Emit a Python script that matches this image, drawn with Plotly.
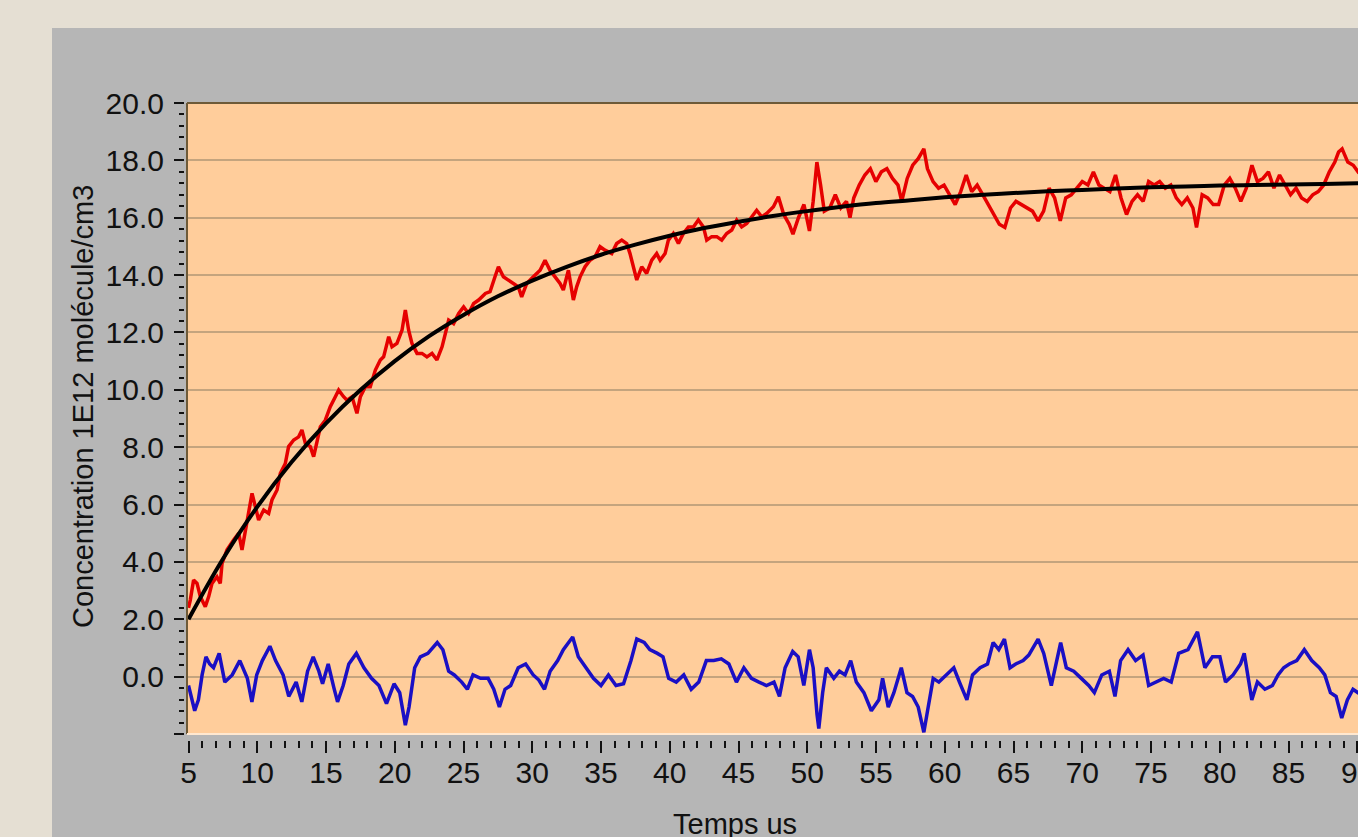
import plotly.graph_objects as go

# ---------------- data ----------------
red_t = [5.00, 5.13, 5.37, 5.62, 5.86, 6.22, 6.47, 6.71, 7.07, 7.31,
         7.44, 7.80, 8.28, 8.65, 8.89, 9.25, 9.62, 9.86, 10.10, 10.47,
         10.83, 11.07, 11.44, 11.68, 12.04, 12.28, 12.65, 13.01, 13.25, 13.50,
         13.86, 14.10, 14.34, 14.59, 14.95, 15.31, 15.68, 15.92, 16.28, 16.53,
         16.89, 17.25, 17.50, 17.86, 18.22, 18.59, 18.95, 19.19, 19.44, 19.56,
         19.80, 20.16, 20.53, 20.77, 21.01, 21.25, 21.62, 21.98, 22.34, 22.71,
         23.07, 23.44, 23.68, 23.92, 24.28, 24.65, 25.01, 25.37, 25.74, 26.10,
         26.59, 26.93, 27.29, 27.54, 27.90, 28.26, 28.63, 28.99, 29.23, 29.60,
         30.08, 30.57, 30.93, 31.29, 31.66, 32.02, 32.26, 32.63, 32.99, 33.23,
         33.48, 33.84, 34.20, 34.57, 34.93, 35.29, 35.78, 36.14, 36.51, 36.87,
         37.11, 37.36, 37.60, 37.96, 38.32, 38.69, 39.05, 39.30, 39.66, 39.90,
         40.26, 40.63, 40.99, 41.36, 41.72, 42.08, 42.45, 42.69, 43.05, 43.42,
         43.78, 44.14, 44.51, 44.87, 45.23, 45.60, 45.96, 46.32, 46.69, 47.05,
         47.54, 47.90, 48.29, 48.69, 48.96, 49.36, 49.76, 50.16, 50.43, 50.70,
         50.97, 51.24, 51.64, 52.04, 52.44, 52.85, 53.11, 53.38, 53.78, 54.19,
         54.59, 54.99, 55.39, 55.79, 56.20, 56.60, 56.87, 57.27, 57.67, 58.07,
         58.48, 58.74, 59.15, 59.55, 59.95, 60.35, 60.76, 61.16, 61.56, 61.96,
         62.36, 62.77, 63.17, 63.57, 63.97, 64.37, 64.78, 65.18, 65.58, 65.98,
         66.38, 66.79, 67.19, 67.59, 67.99, 68.40, 68.80, 69.20, 69.60, 70.00,
         70.41, 70.81, 71.21, 71.61, 72.01, 72.42, 72.82, 73.22, 73.62, 74.02,
         74.43, 74.83, 75.23, 75.63, 76.04, 76.44, 76.84, 77.24, 77.64, 78.05,
         78.31, 78.72, 79.12, 79.52, 79.92, 80.33, 80.73, 81.13, 81.53, 81.93,
         82.34, 82.74, 83.14, 83.54, 83.94, 84.35, 84.75, 85.15, 85.55, 85.95,
         86.36, 86.76, 87.16, 87.56, 87.97, 88.37, 88.64, 88.90, 89.31, 89.71,
         90.06, 90.40]
red_v = [2.40, 2.67, 3.37, 3.25, 2.79, 2.44, 2.79, 3.25, 3.48, 3.25,
         3.95, 4.42, 4.76, 5.00, 4.42, 5.46, 6.39, 5.93, 5.46, 5.81,
         5.69, 6.16, 6.51, 7.09, 7.43, 8.02, 8.25, 8.36, 8.60, 8.13,
         8.02, 7.67, 8.25, 8.71, 8.94, 9.41, 9.76, 9.99, 9.76, 9.64,
         9.76, 9.18, 9.76, 10.11, 10.11, 10.69, 11.04, 11.15, 11.62, 11.85,
         11.50, 11.62, 12.08, 12.78, 12.08, 11.62, 11.27, 11.27, 11.15, 11.27,
         11.04, 11.50, 11.96, 12.43, 12.31, 12.66, 12.89, 12.66, 13.01, 13.13,
         13.36, 13.42, 13.94, 14.29, 13.94, 13.83, 13.71, 13.59, 13.24, 13.71,
         13.94, 14.17, 14.52, 14.17, 13.94, 13.71, 13.48, 14.17, 13.13, 13.59,
         13.94, 14.29, 14.52, 14.64, 14.99, 14.87, 14.75, 15.10, 15.22, 15.10,
         14.75, 14.29, 13.83, 14.29, 14.06, 14.52, 14.75, 14.52, 14.75, 15.22,
         15.45, 15.10, 15.45, 15.68, 15.68, 15.92, 15.68, 15.22, 15.34, 15.34,
         15.22, 15.45, 15.57, 15.92, 15.68, 15.80, 16.03, 16.26, 16.03, 16.15,
         16.38, 16.73, 16.11, 15.77, 15.43, 16.00, 16.46, 15.54, 16.57, 17.94,
         17.14, 16.23, 16.34, 16.80, 16.34, 16.57, 16.00, 16.69, 17.14, 17.49,
         17.71, 17.26, 17.60, 17.71, 17.37, 17.14, 16.57, 17.37, 17.83, 18.06,
         18.40, 17.71, 17.26, 17.03, 17.14, 16.80, 16.46, 16.91, 17.49, 16.91,
         17.14, 16.80, 16.46, 16.11, 15.77, 15.66, 16.34, 16.57, 16.46, 16.34,
         16.23, 15.89, 16.23, 17.03, 16.69, 15.89, 16.69, 16.80, 17.03, 17.26,
         17.14, 17.60, 17.14, 17.03, 16.91, 17.49, 16.69, 16.11, 16.57, 16.80,
         16.57, 17.26, 17.14, 17.26, 17.03, 17.14, 16.69, 16.46, 16.69, 16.34,
         15.66, 16.80, 16.69, 16.46, 16.46, 17.14, 17.37, 17.03, 16.57, 17.03,
         17.83, 17.26, 17.37, 17.60, 17.03, 17.49, 17.14, 16.80, 17.03, 16.69,
         16.57, 16.80, 16.91, 17.14, 17.60, 17.94, 18.29, 18.40, 17.94, 17.83,
         17.60, 17.70]

fit_t = [5, 7.5, 10, 12.5, 15, 17.5, 20, 22.5, 25, 27.5, 30, 32.5, 35, 37.5,
         40, 42.5, 45, 47.5, 50, 52.5, 55, 57.5, 60, 62.5, 65, 67.5, 70, 72.5,
         75, 77.5, 80, 82.5, 85, 87.5, 90, 91]
fit_v = [2.00, 4.10, 5.92, 7.48, 8.83, 9.99, 11.00, 11.87, 12.61, 13.26,
         13.81, 14.29, 14.71, 15.06, 15.37, 15.64, 15.86, 16.06, 16.23, 16.38,
         16.51, 16.61, 16.71, 16.79, 16.86, 16.92, 16.97, 17.02, 17.06, 17.09,
         17.12, 17.14, 17.16, 17.18, 17.20, 17.21]

blue_t = [5.00, 5.17, 5.45, 5.72, 5.99, 6.27, 6.54, 6.82, 7.23, 7.64,
          8.18, 8.73, 9.28, 9.61, 9.96, 10.37, 10.92, 11.33, 11.88, 12.29,
          12.83, 13.24, 13.66, 14.07, 14.48, 14.75, 15.16, 15.57, 15.84, 16.25,
          16.66, 17.21, 17.76, 18.31, 18.85, 19.40, 19.95, 20.36, 20.77, 21.04,
          21.45, 21.86, 22.41, 23.09, 23.50, 23.92, 24.33, 24.87, 25.28, 25.69,
          26.24, 26.79, 27.20, 27.61, 28.02, 28.43, 28.98, 29.52, 30.07, 30.48,
          30.89, 31.30, 31.85, 32.26, 32.94, 33.35, 33.90, 34.45, 35.00, 35.54,
          36.09, 36.64, 37.18, 37.60, 38.14, 38.55, 39.10, 39.51, 39.92, 40.47,
          41.02, 41.56, 42.11, 42.66, 43.20, 43.75, 44.30, 44.85, 45.39, 45.94,
          46.49, 47.03, 47.58, 47.98, 48.39, 48.94, 49.34, 49.75, 50.16, 50.43,
          50.71, 50.84, 51.12, 51.39, 51.93, 52.34, 52.75, 53.16, 53.57, 54.12,
          54.66, 55.21, 55.48, 55.89, 56.30, 56.84, 57.25, 57.66, 58.07, 58.48,
          58.75, 59.16, 59.57, 60.11, 60.66, 61.07, 61.61, 62.02, 62.57, 63.11,
          63.52, 63.93, 64.34, 64.75, 65.16, 65.70, 66.11, 66.79, 67.20, 67.75,
          68.15, 68.43, 68.84, 69.38, 69.93, 70.47, 70.88, 71.42, 71.97, 72.38,
          72.79, 73.33, 73.88, 74.42, 74.83, 75.38, 75.92, 76.47, 77.01, 77.69,
          78.38, 78.92, 79.47, 80.01, 80.42, 80.97, 81.51, 81.78, 82.33, 82.74,
          83.28, 83.83, 84.24, 84.65, 85.06, 85.60, 86.15, 86.69, 87.24, 87.64,
          88.05, 88.46, 88.87, 89.28, 89.69, 90.05, 90.40]
blue_v = [-0.31, -0.69, -1.19, -0.81, 0.06, 0.69, 0.44, 0.31, 0.81, -0.19,
          0.06, 0.56, -0.06, -0.88, 0.06, 0.56, 1.06, 0.56, 0.06, -0.69,
          -0.19, -0.88, 0.19, 0.69, 0.19, -0.25, 0.44, -0.38, -0.88, -0.31,
          0.44, 0.81, 0.31, -0.06, -0.31, -0.94, -0.25, -0.56, -1.69, -1.06,
          0.31, 0.69, 0.81, 1.19, 0.94, 0.19, 0.06, -0.19, -0.44, 0.06,
          -0.06, -0.06, -0.44, -1.06, -0.44, -0.31, 0.31, 0.44, 0.06, -0.12,
          -0.44, 0.19, 0.56, 0.94, 1.38, 0.69, 0.31, -0.06, -0.31, 0.06,
          -0.31, -0.25, 0.56, 1.31, 1.19, 0.94, 0.81, 0.69, -0.06, -0.19,
          0.06, -0.44, -0.19, 0.56, 0.56, 0.62, 0.44, -0.19, 0.31, -0.06,
          -0.19, -0.31, -0.19, -0.69, 0.31, 0.88, 0.69, -0.31, 0.94, 0.31,
          -1.31, -1.81, -0.56, 0.31, -0.06, 0.19, 0.06, 0.56, -0.19, -0.56,
          -1.19, -0.81, -0.06, -1.06, -0.56, 0.31, -0.56, -0.69, -1.06, -1.94,
          -1.19, -0.06, -0.19, 0.06, 0.31, -0.19, -0.81, 0.06, 0.31, 0.44,
          1.19, 0.94, 1.31, 0.31, 0.44, 0.56, 0.75, 1.31, 0.81, -0.31,
          0.56, 1.19, 0.31, 0.19, -0.06, -0.31, -0.56, 0.06, 0.19, -0.69,
          0.56, 0.94, 0.56, 0.75, -0.31, -0.19, -0.06, -0.19, 0.81, 0.94,
          1.56, 0.31, 0.69, 0.69, -0.19, 0.06, 0.44, 0.81, -0.81, -0.19,
          -0.44, -0.31, 0.06, 0.31, 0.44, 0.56, 0.94, 0.56, 0.31, 0.06,
          -0.56, -0.69, -1.44, -0.81, -0.44, -0.56, -0.50]

y_ticks = [-2, 0, 2, 4, 6, 8, 10, 12, 14, 16, 18, 20]
y_tick_text = ["", "0.0", "2.0", "4.0", "6.0", "8.0", "10.0", "12.0",
               "14.0", "16.0", "18.0", "20.0"]
x_ticks = [5, 10, 15, 20, 25, 30, 35, 40, 45, 50, 55, 60, 65, 70, 75, 80, 85, 90]
x_last_tick = 90  # its label runs past the right edge of the window

y_title = "Concentration 1E12 molécule/cm3"
x_title = "Temps us"

# ---------------- layout geometry (pixels) ----------------
W, H = 1358, 837
ML, MR, MT, MB = 184, 0, 103, 97
PW, PH = W - ML - MR, H - MT - MB


def px(x):
    return (x - ML) / PW


def py(y):
    return (H - MB - y) / PH


FONT = "Liberation Sans, Arial, sans-serif"
ORANGE = "#FFCD9B"
GRAY = "#B6B6B6"
BEIGE = "#E5DFD3"
GRID = "#C4A47E"
BORDER = "#6E5A38"
INK = "#111111"

fig = go.Figure()
fig.add_trace(go.Scatter(x=blue_t, y=blue_v, mode="lines",
                         line=dict(color="#1A0FC4", width=3.5), hoverinfo="skip"))
fig.add_trace(go.Scatter(x=red_t, y=red_v, mode="lines",
                         line=dict(color="#E60000", width=3.5), hoverinfo="skip"))
fig.add_trace(go.Scatter(x=fit_t, y=fit_v, mode="lines",
                         line=dict(color="#000000", width=4, shape="spline"),
                         hoverinfo="skip"))

shapes = [
    # beige surround (top and left)
    dict(type="rect", xref="paper", yref="paper", x0=px(0), x1=px(W), y0=py(0), y1=py(28),
         fillcolor=BEIGE, line=dict(width=0), layer="below"),
    dict(type="rect", xref="paper", yref="paper", x0=px(0), x1=px(52), y0=py(0), y1=py(H),
         fillcolor=BEIGE, line=dict(width=0), layer="below"),
    # plot border
    dict(type="line", xref="paper", yref="paper", x0=px(187), x1=px(W), y0=py(103), y1=py(103),
         line=dict(color=BORDER, width=2), layer="above"),
    dict(type="line", xref="paper", yref="paper", x0=px(187), x1=px(187), y0=py(103), y1=py(734),
         line=dict(color=BORDER, width=2), layer="above"),
    dict(type="line", xref="paper", yref="paper", x0=px(187), x1=px(W), y0=py(734), y1=py(734),
         line=dict(color="#FFE8D0", width=2), layer="above"),
]

annotations = [
    dict(text=y_title, xref="paper", yref="paper", x=px(83), y=py(407),
         textangle=-90, showarrow=False, xanchor="center", yanchor="middle",
         font=dict(family=FONT, size=29, color=INK)),
    dict(text=x_title, xref="paper", yref="paper", x=px(735), y=py(806),
         showarrow=False, xanchor="center", yanchor="top",
         font=dict(family=FONT, size=29, color=INK)),
    # label of the last x tick, partly cut by the window edge as in the original
    dict(text=str(x_last_tick), xref="x", yref="paper", x=x_last_tick, y=py(754),
         showarrow=False, xanchor="center", yanchor="top",
         font=dict(family=FONT, size=30, color=INK)),
]

fig.update_layout(
    width=W, height=H,
    margin=dict(l=ML, r=MR, t=MT, b=MB, pad=0),
    paper_bgcolor=GRAY,
    plot_bgcolor=ORANGE,
    showlegend=False,
    shapes=shapes,
    annotations=annotations,
    font=dict(family=FONT, size=30, color=INK),
    xaxis=dict(
        domain=[px(187), 1], anchor="free", position=0,
        range=[5 - 1.5 / 13.75, 5 + (W - 188.5) / 13.75],
        tickmode="array", tickvals=x_ticks,
        ticks="outside", ticklen=12, tickwidth=2, tickcolor=INK,
        minor=dict(dtick=1, tick0=5, ticks="outside", ticklen=7, tickwidth=2,
                   tickcolor=INK, showgrid=False),
        showgrid=False, zeroline=False, showline=False,
        tickfont=dict(family=FONT, size=30, color=INK),
        ticklabelstandoff=-6,
        fixedrange=True,
    ),
    yaxis=dict(
        domain=[py(734), 1], anchor="free", position=0,
        range=[-2, 20],
        tickmode="array", tickvals=y_ticks, ticktext=y_tick_text,
        ticks="outside", ticklen=10, tickwidth=2, tickcolor=INK,
        minor=dict(dtick=0.4, tick0=0, ticks="outside", ticklen=5, tickwidth=2,
                   tickcolor=INK, showgrid=False),
        showgrid=True, gridcolor=GRID, gridwidth=1.5,
        zeroline=False, showline=False,
        tickfont=dict(family=FONT, size=30, color=INK),
        ticklabelstandoff=4,
        fixedrange=True,
    ),
)

post = (
    "document.documentElement.style.overflow='hidden';"
    "document.body.style.margin='0';"
    "document.body.style.padding='0';"
    "document.body.style.overflow='hidden';"
)

fig.write_html("out.html", config=dict(displayModeBar=False), post_script=post)
